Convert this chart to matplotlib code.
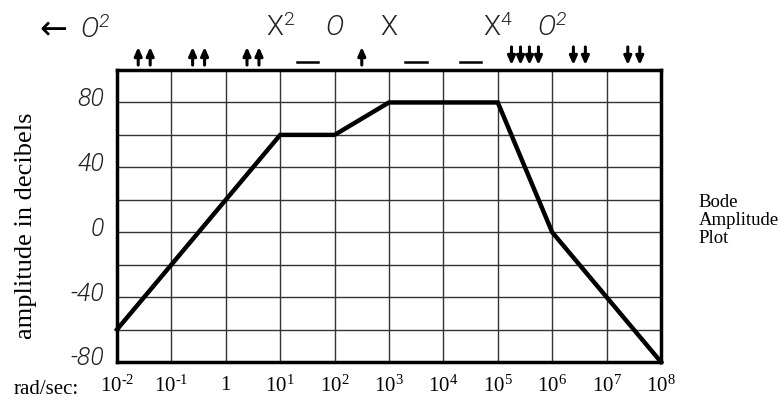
import numpy as np
import matplotlib
matplotlib.use("Agg")
import matplotlib.pyplot as plt
import matplotlib.transforms as mtransforms

plt.rcParams["mathtext.default"] = "regular"

# ----------------------------------------------------------------------
# DATA
# ----------------------------------------------------------------------
freq_break = [1e-2, 1e1, 1e2, 1e3, 1e5, 1e6, 1e8]
amp_db = [-60, 60, 60, 80, 80, 0, -80]

x_ticks = [1e-2, 1e-1, 1, 1e1, 1e2, 1e3, 1e4, 1e5, 1e6, 1e7, 1e8]
x_ticklabels = ["$10^{\u20102}$", "$10^{\u20101}$", "1", r"$10^{1}$", r"$10^{2}$",
                r"$10^{3}$", r"$10^{4}$", r"$10^{5}$", r"$10^{6}$",
                r"$10^{7}$", r"$10^{8}$"]
y_grid = [-80, -60, -40, -20, 0, 20, 40, 60, 80, 100]
y_ticklabels = ["-80", "", "-40", "", "0", "", "40", "", "80", ""]

# slope markers above the plot: log10 freq of decade centre, arrows (+up / -down, 0 = dash)
slope_pos = [-1.5, -0.5, 0.5, 1.5, 2.5, 3.5, 4.5, 5.5, 6.5, 7.5]
slope_arrows = [2, 2, 2, 0, 1, 0, 0, -4, -2, -2]

# pole / zero labels at break frequencies
pz_labels = [r"$X^2$", r"$O$", r"$X$", r"$X^4$", r"$O^2$"]
pz_freq = [1e1, 1e2, 1e3, 1e5, 1e6]

THIN_FONT = dict(family="Roboto", fontweight=300, color="#222222")

# ----------------------------------------------------------------------
# PLOT
# ----------------------------------------------------------------------
fig = plt.figure(figsize=(7.8, 4.01), dpi=100)
ax = fig.add_axes([0.15, 0.0973, 0.6974, 0.7281])

ax.plot(freq_break, amp_db, color="black", lw=3.2, solid_joinstyle="miter",
        clip_on=False, zorder=3)

ax.set_xscale("log")
ax.set_xlim(1e-2, 1e8)
ax.set_ylim(-80, 100)

ax.set_xticks(x_ticks)
ax.set_xticks([], minor=True)
ax.set_xticklabels(x_ticklabels, family="Liberation Serif", fontsize=15)
ax.set_yticks(y_grid)
ax.set_yticklabels(y_ticklabels, fontstyle="italic", fontsize=18, **THIN_FONT)
ax.tick_params(axis="x", length=0, pad=10)
ax.tick_params(axis="y", length=0, pad=9)
# y labels sit a little above their grid lines
shift = mtransforms.ScaledTranslation(0, 6 / 100, fig.dpi_scale_trans)
for lab in ax.get_yticklabels():
    lab.set_transform(lab.get_transform() + shift)
ax.grid(True, color="#333333", lw=1.0)
ax.set_axisbelow(True)
for s in ax.spines.values():
    s.set_linewidth(2.5)

ax.set_ylabel("amplitude in decibels", family="Liberation Serif", fontsize=19)
ax.yaxis.set_label_coords(-0.147, 0.465)
fig.text(0.017, 0.018, "rad/sec:", family="Liberation Serif", fontsize=15)
fig.text(0.896, 0.385, "Bode\nAmplitude\nPlot", family="Liberation Serif",
         fontsize=13.5, va="bottom", ha="left", linespacing=1.08)

# slope arrows / dashes
trans = mtransforms.blended_transform_factory(ax.transData, ax.transAxes)
for p, n in zip(slope_pos, slope_arrows):
    if n == 0:
        ax.plot([10 ** (p - 0.2), 10 ** (p + 0.2)], [1.027, 1.027],
                transform=trans, color="black", lw=1.8, clip_on=False)
        continue
    k = abs(n)
    step = 0.22 if k == 2 else 0.165
    offs = (np.arange(k) - (k - 1) / 2) * step
    for o in offs:
        x = 10 ** (p + o)
        y0, y1 = (1.017, 1.079) if n > 0 else (1.079, 1.017)
        ax.annotate("", xy=(x, y1), xytext=(x, y0), xycoords=trans,
                    textcoords=trans,
                    arrowprops=dict(arrowstyle="-|>,head_length=0.5,head_width=0.22",
                                    color="black", lw=2.2, shrinkA=0, shrinkB=0))

for lab, f in zip(pz_labels, pz_freq):
    style = "italic" if "O" in lab else "normal"
    ax.text(f, 1.144, lab, transform=trans, ha="center", va="center",
            fontsize=20, fontstyle=style, **THIN_FONT)

fig.text(0.050, 0.925, "\u2190", ha="left", va="center", fontsize=24,
         family="DejaVu Sans")
fig.text(0.102, 0.925, r"$O^2$", ha="left", va="center", fontsize=20,
         fontstyle="italic", **THIN_FONT)

fig.savefig("out.png", dpi=100)
